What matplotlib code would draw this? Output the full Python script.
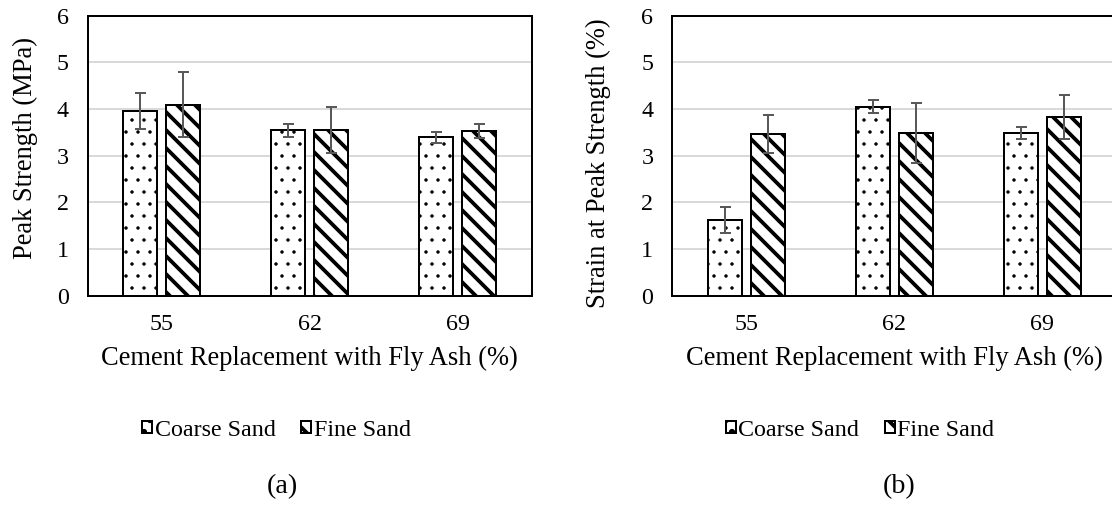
import numpy as np
import matplotlib
matplotlib.use("Agg")
import matplotlib.pyplot as plt
from matplotlib.backend_bases import GraphicsContextBase

plt.rcParams["font.family"] = ["Liberation Serif", "DejaVu Serif"]

# -----------------------------------------------------------------------
# Data
# -----------------------------------------------------------------------
categories = ["55", "62", "69"]
series_names = ["Coarse Sand", "Fine Sand"]

peak_coarse = [3.96, 3.54, 3.39]
peak_coarse_err = [0.39, 0.145, 0.12]
peak_fine = [4.09, 3.55, 3.53]
peak_fine_err = [0.70, 0.50, 0.15]

strain_coarse = [1.62, 4.05, 3.48]
strain_coarse_err = [0.28, 0.14, 0.13]
strain_fine = [3.46, 3.48, 3.83]
strain_fine_err = [0.41, 0.64, 0.47]

# -----------------------------------------------------------------------
# Style
# -----------------------------------------------------------------------
DPI = 72
W, H = 1112, 506
TICK_FS = 24
LABEL_FS = 26.5
BAR_W = 0.228
OFFSET = 0.145
ERR_COLOR = "#595959"
GRID_COLOR = "#d9d9d9"

# tighter diagonal stripes than the default hatch density
_base_hatch_path = GraphicsContextBase.get_hatch_path


def _hatch_path(self, density=6.0):
    h = self.get_hatch()
    if h and "\\" in h:
        density = 8.6
    return _base_hatch_path(self, density)


GraphicsContextBase.get_hatch_path = _hatch_path


def draw_bars(ax, xs, vals, errs, hatch, hatch_lw, label):
    plt.rcParams["hatch.linewidth"] = hatch_lw
    bars = ax.bar(xs, vals, width=BAR_W, color="white", edgecolor="black",
                  linewidth=2, hatch=hatch, label=label, zorder=2)
    for b in bars:
        if hasattr(b, "set_hatch_linewidth"):
            b.set_hatch_linewidth(hatch_lw)
    ax.errorbar(xs, vals, yerr=errs, fmt="none", ecolor=ERR_COLOR,
                elinewidth=2, capsize=5.5, capthick=2, zorder=3)
    return bars


def setup_panel(ax, coarse, coarse_err, fine, fine_err, ylabel, ylab_xy):
    x = np.arange(len(categories))
    draw_bars(ax, x - OFFSET, coarse, coarse_err, ".", 1.0, series_names[0])
    draw_bars(ax, x + OFFSET, fine, fine_err, "\\", 3.8, series_names[1])

    ax.set_xlim(-0.5, len(categories) - 0.5)
    ax.set_ylim(0, 6)
    ax.set_yticks(range(0, 7))
    ax.set_xticks(x)
    ax.set_xticklabels(categories)
    ax.tick_params(axis="both", length=0, labelsize=TICK_FS, pad=19)

    ax.yaxis.grid(True, color=GRID_COLOR, linewidth=2)
    ax.set_axisbelow(True)
    for sp in ax.spines.values():
        sp.set_color("black")
        sp.set_linewidth(2)

    ax.set_xlabel("Cement Replacement with Fly Ash (%)", fontsize=LABEL_FS,
                  va="top")
    ax.xaxis.set_label_coords(0.5, -0.18)
    ax.set_ylabel(ylabel, fontsize=LABEL_FS, va="center")
    ax.yaxis.set_label_coords(*ylab_xy)


fig = plt.figure(figsize=(W / DPI, H / DPI), dpi=DPI)

ax_a = fig.add_axes([87.7 / W, (H - 295.5) / H, 444 / W, 279.8 / H])
ax_b = fig.add_axes([672.3 / W, (H - 295.5) / H, 444 / W, 279.8 / H])

setup_panel(ax_a, peak_coarse, peak_coarse_err, peak_fine, peak_fine_err,
            "Peak Strength (MPa)", (-0.14, 0.527))
setup_panel(ax_b, strain_coarse, strain_coarse_err, strain_fine, strain_fine_err,
            "Strain at Peak Strength (%)", (-0.166, 0.472))

# legends below each panel
for ax, cx in [(ax_a, 276.5), (ax_b, 860)]:
    handles, labels = ax.get_legend_handles_labels()
    fig.legend(handles, labels, loc="center", bbox_to_anchor=(cx / W, (H - 430) / H),
               ncol=2, frameon=False, fontsize=TICK_FS,
               handlelength=0.42, handleheight=0.42, handletextpad=0.12,
               columnspacing=1.05, borderaxespad=0)

fig.text(282 / W, (H - 487) / H, "(a)", fontsize=28, ha="center", va="center")
fig.text(899 / W, (H - 487) / H, "(b)", fontsize=28, ha="center", va="center")

fig.savefig("out.png", dpi=DPI)
